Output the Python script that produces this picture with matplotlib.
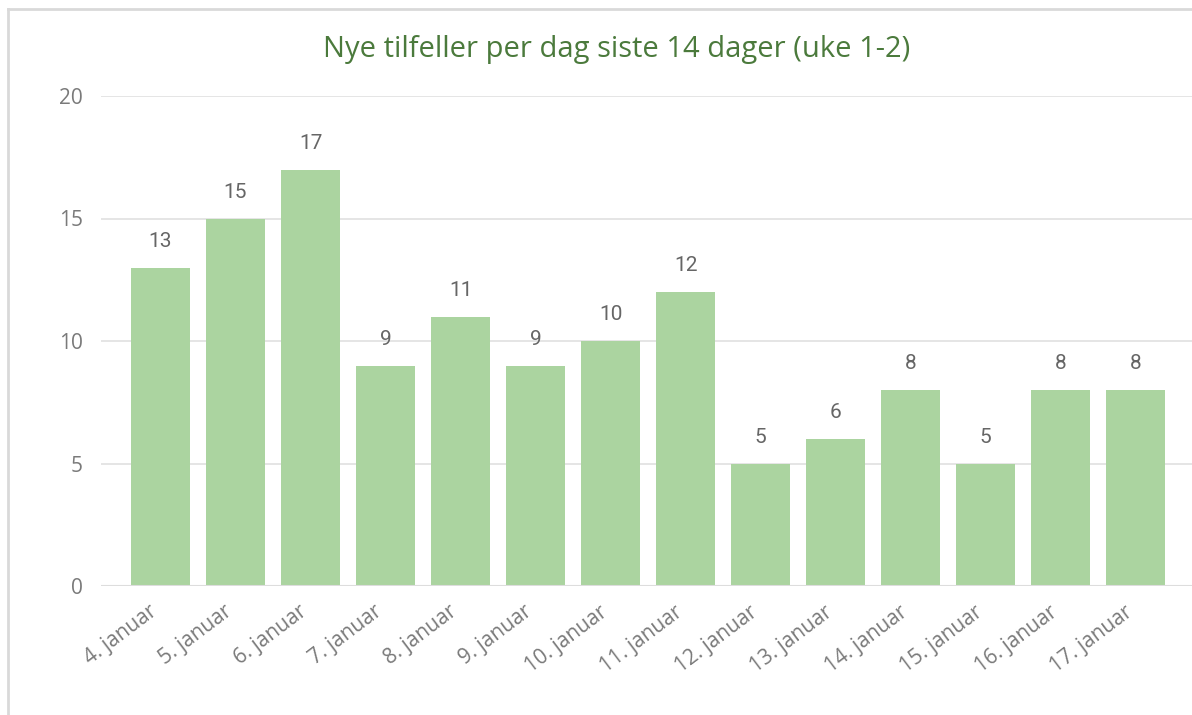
import matplotlib.pyplot as plt
from matplotlib.lines import Line2D
from matplotlib.transforms import ScaledTranslation

# data
days = ['4. januar', '5. januar', '6. januar', '7. januar', '8. januar',
        '9. januar', '10. januar', '11. januar', '12. januar', '13. januar',
        '14. januar', '15. januar', '16. januar', '17. januar']
cases = [13, 15, 17, 9, 11, 9, 10, 12, 5, 6, 8, 5, 8, 8]
yticks = [0, 5, 10, 15, 20]
title = 'Nye tilfeller per dag siste 14 dager (uke 1-2)'

plt.rcParams['font.family'] = ['Open Sans', 'DejaVu Sans']

fig = plt.figure(figsize=(11.92, 7.15), dpi=100, facecolor='white')
ax = fig.add_axes([101 / 1192, 129 / 715, 1 - 101 / 1192, 490 / 715])

x = range(len(days))
bars = ax.bar(x, cases, width=0.79, color='#ABD4A0', zorder=3)
for b, v in zip(bars, cases):
    ax.annotate(str(v), (b.get_x() + b.get_width() / 2, v), xytext=(0, 12),
                textcoords='offset points', ha='center', va='bottom',
                fontsize=15, color='#666666', family=['Roboto', 'DejaVu Sans'])

ax.set_ylim(0, 20)
ax.set_xlim(-0.793, 13.75)
ax.set_yticks(yticks)
ax.set_yticklabels([str(t) for t in yticks], fontsize=15, color='#7a7a7a')
ax.set_xticks(list(x))
ax.set_xticklabels(days, rotation=37, ha='right', rotation_mode='anchor',
                   fontsize=15, color='#7a7a7a')
ax.tick_params(axis='both', length=0)
ax.tick_params(axis='y', pad=13)
ax.tick_params(axis='x', pad=11)
shift = ScaledTranslation(-0.12, 0, fig.dpi_scale_trans)
for lbl in ax.get_xticklabels():
    lbl.set_transform(lbl.get_transform() + shift)
ax.yaxis.grid(True, color='#E3E3E3', linewidth=1.3, zorder=0)
for s in ax.spines.values():
    s.set_visible(False)
ax.axhline(0, color='#DDDDDD', linewidth=1.5, zorder=4)

fig.text(617 / 1192, 1 - 50 / 715, title, ha='center', va='center',
         fontsize=21, color='#4B7A3C')

# chart frame (left and top edges)
fig.add_artist(Line2D([8 / 1192, 8 / 1192], [0, 1 - 9 / 715],
                      transform=fig.transFigure, color='#D9D9D9', linewidth=2))
fig.add_artist(Line2D([8 / 1192, 1], [1 - 9 / 715, 1 - 9 / 715],
                      transform=fig.transFigure, color='#D9D9D9', linewidth=2))

fig.savefig('out.png', dpi=100, facecolor='white')
